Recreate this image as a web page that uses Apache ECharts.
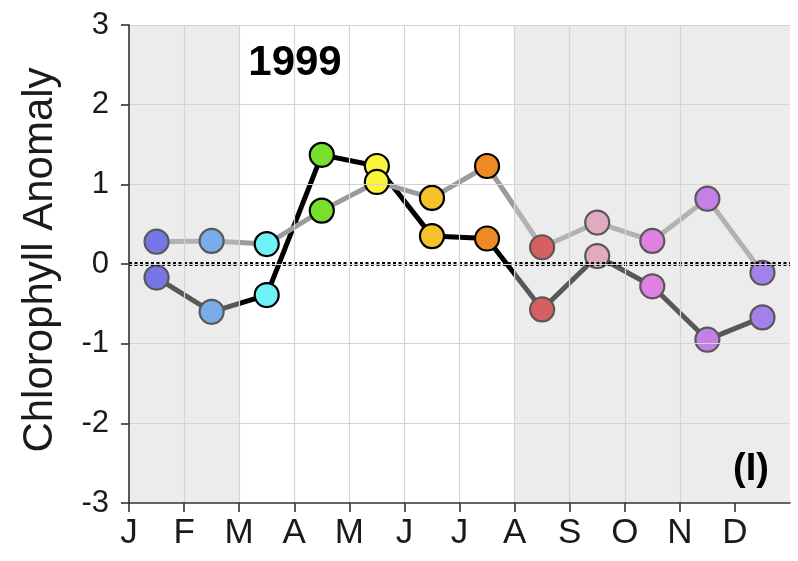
<!DOCTYPE html>
<html>
<head>
<meta charset="utf-8">
<script src="https://cdn.jsdelivr.net/npm/echarts@6/dist/echarts.min.js"></script>
<style>
  html, body { margin: 0; padding: 0; background: #ffffff; }
  #chart { width: 798px; height: 561px; }
</style>
</head>
<body>
<div id="chart"></div>
<script>
// Month initials along the bottom axis (ticks sit at month starts)
const monthLabels = ['J', 'F', 'M', 'A', 'M', 'J', 'J', 'A', 'S', 'O', 'N', 'D'];
const monthStarts = [0, 1, 2, 3, 4, 5, 6, 7, 8, 9, 10, 11];
// Each monthly value is plotted at the middle of its month
const monthCenters = [0.5, 1.5, 2.5, 3.5, 4.5, 5.5, 6.5, 7.5, 8.5, 9.5, 10.5, 11.5];

// Chlorophyll anomaly, 1999 (two records)
const anomalyDark  = [-0.17, -0.60, -0.39, 1.37, 1.23, 0.35, 0.32, -0.57, 0.10, -0.28, -0.95, -0.67];
const anomalyLight = [0.28, 0.29, 0.25, 0.67, 1.03, 0.83, 1.23, 0.21, 0.52, 0.29, 0.82, -0.11];

const yTicks = [-3, -2, -1, 0, 1, 2, 3];
const xRange = [0, 12];
// Months outside the spring/summer window are greyed out
const shadedSpans = [[0, 2], [7, 12]];

const yearTitle = '1999';
const panelTag = '(I)';
const yTitle = 'Chlorophyll Anomaly';

// One marker colour per month
const monthColors = ['#3434f8', '#3791fc', '#6ef2f7', '#78e02c', '#fbf43a', '#f6c22c',
                     '#ee8a24', '#d90e11', '#ea8db3', '#e748ee', '#ba45f1', '#8345ff'];

const FONT = "'Liberation Sans', Arial, Helvetica, sans-serif";

function points(values) {
  return monthCenters.map((x, i) => ({
    value: [x, values[i]],
    itemStyle: { color: monthColors[i] }
  }));
}

const chart = echarts.init(document.getElementById('chart'), null, { renderer: 'canvas' });

const axisStroke = { color: '#333333', width: 1.6 };

chart.setOption({
  animation: false,
  backgroundColor: '#ffffff',
  grid: { left: 129, right: 8, top: 25, bottom: 58, containLabel: false },
  xAxis: {
    type: 'value',
    min: xRange[0],
    max: xRange[1],
    interval: 1,
    z: 10,
    axisLine: { show: true, onZero: false, lineStyle: axisStroke },
    axisTick: { show: true, length: 9, lineStyle: axisStroke, customValues: monthStarts },
    axisLabel: {
      customValues: monthStarts,
      formatter: v => monthLabels[Math.round(v)] || '',
      fontFamily: FONT,
      fontSize: 35,
      color: '#1a1a1a',
      margin: 13
    },
    splitLine: {
      show: true,
      showMinLine: false,
      showMaxLine: false,
      lineStyle: { color: '#d4d4d4', width: 1.2 }
    }
  },
  yAxis: {
    type: 'value',
    min: yTicks[0],
    max: yTicks[yTicks.length - 1],
    interval: 1,
    z: 10,
    axisLine: { show: true, onZero: false, lineStyle: axisStroke },
    axisTick: { show: true, length: 8, lineStyle: axisStroke },
    axisLabel: {
      fontFamily: FONT,
      fontSize: 31,
      color: '#1a1a1a',
      margin: 20
    },
    splitLine: {
      show: true,
      showMinLine: false,
      lineStyle: { color: '#d4d4d4', width: 1.2 }
    }
  },
  series: [
    {
      name: 'dark',
      type: 'line',
      z: 2,
      data: points(anomalyDark),
      symbol: 'circle',
      symbolSize: 24,
      lineStyle: { color: '#000000', width: 5 },
      itemStyle: { borderColor: '#000000', borderWidth: 2.2 },
      emphasis: { disabled: true }
    },
    {
      name: 'light',
      type: 'line',
      z: 2,
      data: points(anomalyLight),
      symbol: 'circle',
      symbolSize: 24,
      lineStyle: { color: '#9b9b9b', width: 5 },
      itemStyle: { borderColor: '#000000', borderWidth: 2.2 },
      emphasis: { disabled: true }
    },
    {
      // translucent grey wash over the off-season months
      name: 'offSeason',
      type: 'line',
      z: 5,
      data: [],
      markArea: {
        silent: true,
        z: 5,
        itemStyle: { color: 'rgba(210,210,210,0.42)' },
        data: shadedSpans.map(([a, b]) => [
          { coord: [a, yTicks[0]] },
          { coord: [b, yTicks[yTicks.length - 1]] }
        ])
      }
    },
    {
      // dotted zero reference line across the full month range
      name: 'zero',
      type: 'line',
      z: 6,
      data: xRange.map(x => [x, 0]),
      symbol: 'none',
      silent: true,
      lineStyle: { color: '#000000', width: 4, type: [3, 2.5], cap: 'butt', opacity: 1 },
      emphasis: { disabled: true }
    }
  ],
  graphic: [
    {
      type: 'text',
      x: 40,
      y: 260,
      rotation: Math.PI / 2,
      z: 20,
      style: {
        text: yTitle,
        fontFamily: FONT,
        fontSize: 42,
        fill: '#1a1a1a',
        align: 'center',
        verticalAlign: 'middle'
      }
    },
    {
      type: 'text',
      x: 295,
      y: 63,
      z: 20,
      style: {
        text: yearTitle,
        fontFamily: FONT,
        fontWeight: 'bold',
        fontSize: 42,
        fill: '#000000',
        align: 'center',
        verticalAlign: 'middle'
      }
    },
    {
      type: 'text',
      x: 751,
      y: 470,
      z: 20,
      style: {
        text: panelTag,
        fontFamily: FONT,
        fontWeight: 'bold',
        fontSize: 38,
        fill: '#000000',
        align: 'center',
        verticalAlign: 'middle'
      }
    }
  ]
});
</script>
</body>
</html>
